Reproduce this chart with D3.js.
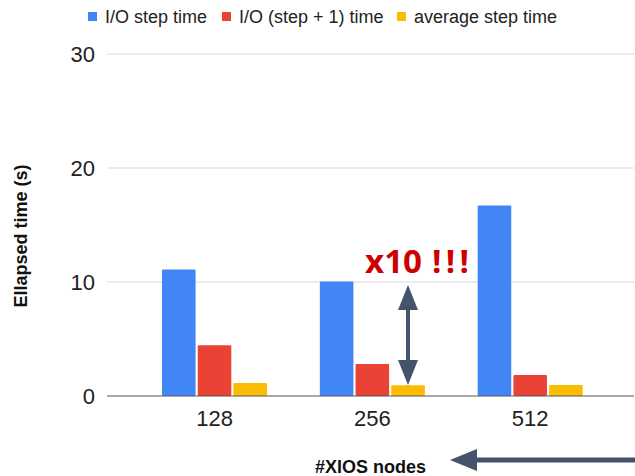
<!DOCTYPE html>
<html><head><meta charset="utf-8">
<script src="https://cdn.jsdelivr.net/npm/d3@7"></script>
<style>body{margin:0;background:#fff}svg{display:block}</style>
</head><body>
<svg id="c" width="635" height="476"></svg>
<script>
const categories = ["128", "256", "512"];
const seriesNames = ["I/O step time", "I/O (step + 1) time", "average step time"];
const ioStep = [11.1, 10.05, 16.7];
const ioStepPlus1 = [4.45, 2.8, 1.85];
const avgStep = [1.15, 0.95, 0.97];
const yTicks = [0, 10, 20, 30];
const colors = ["#4285f4", "#ea4335", "#fbbc04"];
const series = [ioStep, ioStepPlus1, avgStep];

const svg = d3.select("#c");
const font = "'Liberation Sans', Arial, sans-serif";

const y = d3.scaleLinear().domain([0, 30]).range([396, 54]);
const x0 = d3.scaleBand().domain(categories).range([135.6, 609.1]).paddingInner(0).paddingOuter(0);
const x1 = d3.scaleBand().domain(d3.range(3)).range([0, 105]).paddingInner(0.06);

// gridlines
svg.append("g").selectAll("line").data(yTicks.filter(d => d > 0)).join("line")
  .attr("x1", 107).attr("x2", 634)
  .attr("y1", d => y(d)).attr("y2", d => y(d))
  .attr("stroke", "#d9d9d9").attr("stroke-width", 1);

// y tick labels
svg.append("g").selectAll("text").data(yTicks).join("text")
  .attr("x", 95).attr("y", d => y(d)).attr("dy", "0.36em")
  .attr("text-anchor", "end").attr("font-family", font).attr("font-size", 22)
  .attr("fill", "#222").text(d => d);

// bars
const g = svg.append("g");
categories.forEach((c, i) => {
  const gx = x0(c) + x0.bandwidth() / 2 - 52.5;
  series.forEach((s, j) => {
    g.append("rect")
      .attr("x", gx + x1(j)).attr("width", x1.bandwidth())
      .attr("y", y(s[i])).attr("height", y(0) - y(s[i]))
      .attr("fill", colors[j]).attr("rx", 1);
  });
});

// baseline
svg.append("line").attr("x1", 107).attr("x2", 634).attr("y1", y(0)).attr("y2", y(0))
  .attr("stroke", "#555").attr("stroke-width", 1.2);

// x tick labels
svg.append("g").selectAll("text").data(categories).join("text")
  .attr("x", d => x0(d) + x0.bandwidth() / 2).attr("y", 426)
  .attr("text-anchor", "middle").attr("font-family", font).attr("font-size", 22)
  .attr("fill", "#222").text(d => d);

// legend
const legendX = [88, 222, 397];
seriesNames.forEach((n, j) => {
  svg.append("rect").attr("x", legendX[j]).attr("y", 12).attr("width", 9).attr("height", 9).attr("fill", colors[j]);
  svg.append("text").attr("x", legendX[j] + 17).attr("y", 23)
    .attr("font-family", font).attr("font-size", 18).attr("fill", "#222").text(n);
});

// axis titles
svg.append("text").attr("transform", "translate(27,236) rotate(-90)")
  .attr("text-anchor", "middle").attr("font-family", font).attr("font-size", 18)
  .attr("textLength", 143).attr("lengthAdjust", "spacingAndGlyphs")
  .attr("font-weight", "bold").attr("fill", "#111").text("Ellapsed time (s)");
svg.append("text").attr("x", 315).attr("y", 473)
  .attr("font-family", font).attr("font-size", 18)
  .attr("font-weight", "bold").attr("fill", "#111").text("#XIOS nodes");

// annotation
const ann = svg.append("text").attr("y", 273)
  .attr("font-family", "'Open Sans', sans-serif").attr("font-size", 33)
  .attr("font-weight", "bold").attr("fill", "#cc0000");
ann.append("tspan").attr("x", 365).attr("textLength", 57).attr("lengthAdjust", "spacingAndGlyphs").text("x10");
ann.append("tspan").attr("x", 432).attr("textLength", 37).attr("lengthAdjust", "spacing").text("!!!");

const ac = "#44546a";
// double arrow
const ax = 408;
svg.append("line").attr("x1", ax).attr("x2", ax).attr("y1", 300).attr("y2", 370)
  .attr("stroke", ac).attr("stroke-width", 4);
svg.append("path").attr("d", `M${ax},285 L${ax+10},310 L${ax-10},310 Z`).attr("fill", ac);
svg.append("path").attr("d", `M${ax},385 L${ax+10},360 L${ax-10},360 Z`).attr("fill", ac);

// left arrow
svg.append("line").attr("x1", 470).attr("x2", 636).attr("y1", 460).attr("y2", 460)
  .attr("stroke", ac).attr("stroke-width", 5);
svg.append("path").attr("d", "M450,460 L477,449 L477,471 Z").attr("fill", ac);
</script>
</body></html>
